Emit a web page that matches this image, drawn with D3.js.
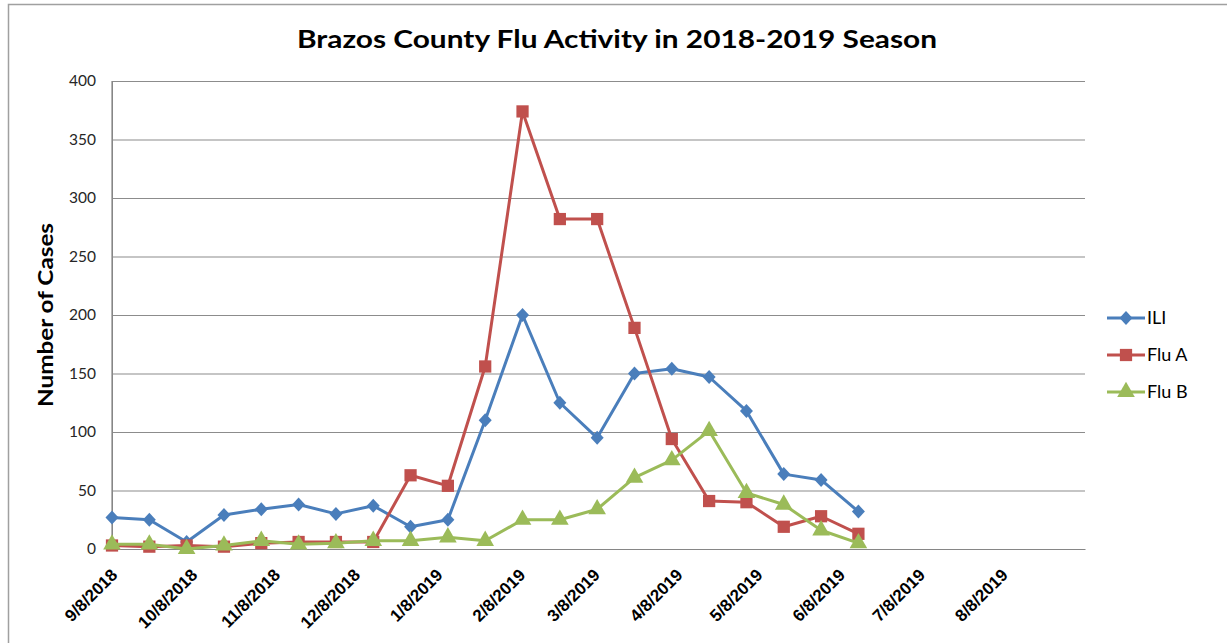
<!DOCTYPE html>
<html><head><meta charset="utf-8">
<script src="https://cdn.jsdelivr.net/npm/d3@7"></script>
<style>
body{margin:0;background:#fff;}
svg{display:block;font-family:Lato,"Open Sans",sans-serif;}
</style></head><body>
<svg id="c" width="1227" height="643"></svg>
<script>
// ---- data ----
const dates = ["2018-09-08","2018-09-22","2018-10-06","2018-10-20","2018-11-03","2018-11-17","2018-12-01","2018-12-15","2018-12-29","2019-01-12","2019-01-26","2019-02-09","2019-02-23","2019-03-09","2019-03-23","2019-04-06","2019-04-20","2019-05-04","2019-05-18","2019-06-01","2019-06-15"];
const ili  = [27,25,6,29,34,38,30,37,19,25,110,200,125,95,150,154,147,118,64,59,32];
const fluA = [3,2,3,2,5,6,6,6,63,54,156,374,282,282,189,94,41,40,19,28,13];
const fluB = [4,4,0,3,7,4,5,7,7,10,7,25,25,34,61,76,101,48,38,16,5];
const seriesNames = ["ILI","Flu A","Flu B"];
const xTickLabels = ["9/8/2018","10/8/2018","11/8/2018","12/8/2018","1/8/2019","2/8/2019","3/8/2019","4/8/2019","5/8/2019","6/8/2019","7/8/2019","8/8/2019"];
const yTicks = [0,50,100,150,200,250,300,350,400];

const colors = ["#4a7ebb","#c0504d","#9bbb59"];
const svg = d3.select("#c");
const parse = d3.timeParse("%Y-%m-%d");
const parseTick = d3.timeParse("%m/%d/%Y");

const L = 112, R = 1085, T = 81, B = 549;
const x = d3.scaleTime().domain([parse("2018-09-08"), parse("2019-09-08")]).range([L, R]);
const y = d3.scaleLinear().domain([0, 400]).range([B, T]);

// outer border
svg.append("rect").attr("x",8.5).attr("y",4.5).attr("width",1240).attr("height",660)
  .attr("fill","none").attr("stroke","#a0a0a0").attr("stroke-width",1.5);

// title
svg.append("text").attr("x",617).attr("y",48).attr("text-anchor","middle")
  .attr("font-size",25).attr("font-weight","bold").attr("fill","#000")
  .attr("textLength",640).attr("lengthAdjust","spacingAndGlyphs")
  .text("Brazos County Flu Activity in 2018-2019 Season");

// gridlines + y axis
const yAxis = d3.axisLeft(y).tickValues(yTicks).tickSize(-(R-L)).tickPadding(16);
const gy = svg.append("g").attr("transform",`translate(${L},0)`).call(yAxis);
gy.select(".domain").attr("stroke","#868686");
gy.selectAll(".tick line").attr("stroke","#8c8c8c").attr("stroke-width",1.2);
gy.selectAll(".tick text").attr("font-size",15.5).attr("fill","#262626").attr("font-family","Lato,sans-serif");
svg.append("line").attr("x1",L).attr("x2",L).attr("y1",T).attr("y2",B).attr("stroke","#868686").attr("stroke-width",1.2);

// x axis
const xAxis = d3.axisBottom(x).tickValues(xTickLabels.map(parseTick)).tickSize(0).tickFormat((d,i)=>xTickLabels[i]);
const gx = svg.append("g").attr("transform",`translate(0,${B})`).call(xAxis);
gx.select(".domain").attr("stroke","#868686").attr("stroke-width",1.2);
gx.selectAll(".tick text").attr("font-size",17).attr("font-weight","bold").attr("fill","#000")
  .attr("text-anchor","end").attr("dy",0).attr("y",0)
  .attr("transform","translate(6,27) rotate(-45)");

// y label
svg.append("text").attr("transform","translate(53,315) rotate(-90)").attr("text-anchor","middle")
  .attr("font-size",20).attr("font-weight","bold").attr("fill","#000")
  .attr("textLength",184).attr("lengthAdjust","spacingAndGlyphs").text("Number of Cases");

const allSeries = [ili, fluA, fluB];
const diamond = "M0,-7L6.5,0L0,7L-6.5,0Z";
const markerPath = [()=>diamond, d3.symbol().type(d3.symbolSquare).size(150), d3.symbol().type(d3.symbolTriangle).size(135)];
const line = d3.line().x((d,i)=>x(parse(dates[i]))).y(d=>y(d));

allSeries.forEach((vals,si)=>{
  svg.append("path").datum(vals).attr("d",line).attr("fill","none")
    .attr("stroke",colors[si]).attr("stroke-width",3).attr("stroke-linejoin","round");
  svg.append("g").selectAll("path").data(vals).join("path")
    .attr("transform",(d,i)=>`translate(${x(parse(dates[i]))},${y(d)})`)
    .attr("d",markerPath[si])
    .attr("fill",colors[si]);
});

// legend
const lg = svg.append("g");
seriesNames.forEach((n,i)=>{
  const yy = 318 + i*37;
  lg.append("line").attr("x1",1107).attr("x2",1145).attr("y1",yy).attr("y2",yy).attr("stroke",colors[i]).attr("stroke-width",3);
  lg.append("path").attr("transform",`translate(1126,${yy})`)
    .attr("d",markerPath[i]).attr("fill",colors[i]);
  lg.append("text").attr("x",1147).attr("y",yy+6).attr("font-size",18).attr("fill","#000").text(n);
});
</script>
</body></html>
